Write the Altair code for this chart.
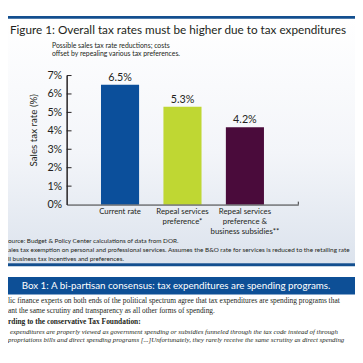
import altair as alt
import pandas as pd

# ---- data ----
categories = ["Current rate", "Repeal services|preference*", "Repeal services|preference &|business subsidies**"]
values = [6.5, 5.3, 4.2]
value_labels = ["6.5%", "5.3%", "4.2%"]
bar_colors = ["#0b4f9b", "#bfd733", "#4a0b3b"]
y_ticks = [1, 2, 3, 4, 5, 6, 7]
y_axis_values = [0, 1, 2, 3, 4, 5, 6, 7]

title_text = "Figure 1:  Overall tax rates must be higher due to tax expenditures"
subtitle_lines = ["Possible sales tax rate reductions; costs", "offset by repealing various tax preferences."]
y_title = "Sales tax rate (%)"
footnotes = [
    "ource: Budget & Policy Center calculations of data from DOR.",
    "ales tax exemption on personal and professional services. Assumes the B&O rate for services is reduced to the retailing rate",
    "ll business tax incentives and preferences.",
]
box_title = "Box 1: A bi-partisan consensus: tax expenditures are spending programs."
body_lines = [
    "lic finance experts on both ends of the political spectrum agree that tax expenditures are spending programs that",
    "ant the same scrutiny and transparency as all other forms of spending.",
]
body_bold = "rding to the conservative Tax Foundation:"
body_italic = [
    "expenditures are properly viewed as government spending or subsidies funneled through the tax code instead of through",
    "propriations bills and direct spending programs [...]Unfortunately, they rarely receive the same scrutiny as direct spending",
]

df = pd.DataFrame({"cat": categories, "val": values, "lab": value_labels})
ticks_df = pd.DataFrame({"val": y_ticks})

BLUE = "#134f8f"
SANS = "Lato"
SERIF = "Liberation Serif"


def text_layer(t, x, y, size, color="#231f20", font=SANS, align="left", weight="normal", style="normal", angle=0):
    return alt.Chart(pd.DataFrame({"t": [t]})).mark_text(
        align=align, baseline="middle", fontSize=size, font=font, color=color,
        fontWeight=weight, fontStyle=style, angle=angle,
    ).encode(text="t:N", x=alt.value(x), y=alt.value(y))


def rect_layer(x, x2, y, y2, color):
    return alt.Chart(pd.DataFrame({"a": [0]})).mark_rect(color=color).encode(
        x=alt.value(x), x2=alt.value(x2), y=alt.value(y), y2=alt.value(y2))


one = pd.DataFrame({"a": [0]})

panel = alt.Chart(one).mark_rect(
    color=alt.LinearGradient(
        gradient="linear",
        stops=[alt.GradientStop(color="#ffffff", offset=0),
               alt.GradientStop(color="#f3f5f9", offset=0.55),
               alt.GradientStop(color="#dce3ed", offset=1)],
        x1=0, x2=0, y1=0, y2=1)
).encode(x=alt.value(-60), x2=alt.value(295), y=alt.value(-58), y2=alt.value(192))

xscale = alt.Scale(domain=categories, paddingInner=0.39, paddingOuter=0.55)
yscale = alt.Scale(domain=[0, 7], nice=False)

x_axis = alt.Axis(labelExpr="split(datum.label, '|')", labelAngle=0, ticks=False, zindex=2,
                  domainColor="#333333", domainWidth=1, labelFont=SANS, labelFontSize=8,
                  labelColor="#231f20", labelPadding=3, labelLineHeight=10.5, labelBaseline="top")
y_axis = alt.Axis(values=y_axis_values, labelExpr="datum.value + '%'", zindex=2,
                  labelOverlap=False, labelFlush=False, labelBound=False,
                  ticks=False, grid=False, domainColor="#231f20", domainWidth=1.5,
                  labelFont=SANS, labelFontSize=11, labelColor="#231f20", labelPadding=5)

bars = alt.Chart(df).mark_bar().encode(
    x=alt.X("cat:N", sort=categories, scale=xscale, title=None, axis=x_axis),
    y=alt.Y("val:Q", scale=yscale, title=None, axis=y_axis),
    color=alt.Color("cat:N", scale=alt.Scale(domain=categories, range=bar_colors), legend=None),
)

bar_labels = alt.Chart(df).mark_text(baseline="bottom", dy=-2, fontSize=11, font=SANS, color="#231f20").encode(
    x=alt.X("cat:N", sort=categories, scale=xscale, title=None, axis=x_axis),
    y=alt.Y("val:Q", scale=yscale, title=None, axis=y_axis),
    text="lab:N",
)

tick_marks = alt.Chart(ticks_df).mark_rule(color="#231f20", strokeWidth=1).encode(
    y=alt.Y("val:Q", scale=yscale, title=None, axis=y_axis),
    x=alt.value(0), x2=alt.value(5),
)

end_tick = alt.Chart(one).mark_rule(color="#333333").encode(
    x=alt.value(237), y=alt.value(129), y2=alt.value(132))

layers = [
    panel,
    rect_layer(-60, 295, -61, -58, BLUE),
    text_layer(title_text, -58, -46, 12),
    text_layer(subtitle_lines[0], -15, -30, 7),
    text_layer(subtitle_lines[1], -15, -22, 7),
    text_layer(y_title, -33, 56, 10, angle=270, align="center"),
    bars, bar_labels, tick_marks, end_tick,
    text_layer(footnotes[0], -60, 169, 6.5),
    text_layer(footnotes[1], -60, 179, 6.5),
    text_layer(footnotes[2], -60, 188, 6.5),
    rect_layer(-60, 295, 192, 195, BLUE),
    rect_layer(-63, 295, 206, 224, "#0d4f96"),
    text_layer(box_title, -46, 215, 10, color="#ffffff"),
    text_layer(body_lines[0], -60, 231, 7.6, font=SERIF),
    text_layer(body_lines[1], -60, 241, 7.6, font=SERIF),
    text_layer(body_bold, -60, 252, 7.6, font=SERIF, weight="bold"),
    text_layer(body_italic[0], -58, 262, 7.0, font=SERIF, style="italic"),
    text_layer(body_italic[1], -60, 271, 7.0, font=SERIF, style="italic"),
]

chart = alt.layer(*layers).properties(
    width=237, height=132,
    padding={"left": 60, "top": 65, "right": 58, "bottom": 158},
    autosize=alt.AutoSizeParams(type="none"),
    background="#ffffff",
).configure_view(strokeWidth=0)

chart.save("out.html", embed_options={"renderer": "svg", "actions": False})
